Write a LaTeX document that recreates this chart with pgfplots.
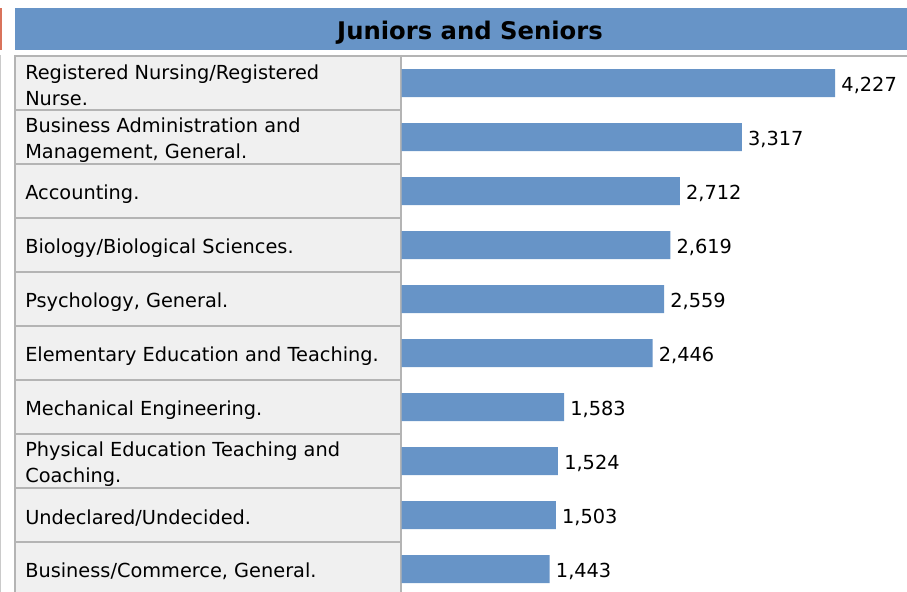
\documentclass[border=0pt]{standalone}
\usepackage{pgfplots}
\pgfplotsset{compat=1.18}
\usepackage{fontspec}
\setmainfont{DejaVu Sans}
\definecolor{barblue}{HTML}{6794C7}
\definecolor{cellgray}{HTML}{F0F0F0}
\definecolor{rulegray}{HTML}{B4B4B4}
\definecolor{edgeorange}{HTML}{D9735B}
\newcommand{\lblfont}{\fontsize{14.5pt}{19.5pt}\selectfont}

\begin{document}
\begin{tikzpicture}
% table frame and title, in pixel units (y down)
\begin{scope}[x=0.75pt,y=-0.75pt]
\fill[edgeorange] (0,8) rectangle (2,50);
\draw[rulegray!70, line width=0.75pt] (0.5,55) -- (0.5,592);
\fill[barblue] (15,8) rectangle (907,50.5);
\node[font=\fontsize{18.2pt}{22pt}\selectfont\bfseries] at (470,32.5) {Juniors and Seniors};
\fill[cellgray] (14,55) rectangle (401,592);
\foreach \yy in {110,164,...,542} \draw[rulegray, line width=1.1pt] (14,\yy) -- (401,\yy);
\draw[rulegray, line width=1.5pt] (15,55) -- (15,592);
\draw[rulegray, line width=1.5pt] (400.5,55) -- (400.5,592);
\draw[rulegray, line width=1.5pt] (14,55.75) -- (907,55.75);
\end{scope}

\begin{axis}[
    at={(301.275pt,0pt)}, anchor=north west,
    scale only axis, width=378.975pt, height=444pt,
    xmin=0, xmax=4927, ymin=-0.537, ymax=10.426, y dir=reverse,
    xbar, bar width=21pt,
    axis line style={draw=none},
    xtick=\empty, ytick={1,...,10}, major tick length=0pt,
    yticklabels={
        {Registered Nursing/Registered\\Nurse.},
        {Business Administration and\\Management, General.},
        {Accounting.},
        {Biology/Biological Sciences.},
        {Psychology, General.},
        {Elementary Education and Teaching.},
        {Mechanical Engineering.},
        {Physical Education Teaching and\\Coaching.},
        {Undeclared/Undecided.},
        {Business/Commerce, General.}},
    yticklabel style={anchor=west, align=left, inner sep=0pt, xshift=-282.525pt, yshift=-2pt, font=\lblfont},
    nodes near coords,
    nodes near coords style={font=\lblfont, anchor=west, inner sep=0pt, xshift=4.5pt, yshift=-2pt},
    /pgf/number format/assume math mode=true,
    /pgf/number format/1000 sep={,},
    clip=false,
]
\addplot[fill=barblue, draw=none] coordinates {
    (4227,1) (3317,2) (2712,3) (2619,4) (2559,5)
    (2446,6) (1583,7) (1524,8) (1503,9) (1443,10)
};
\end{axis}
\pgfresetboundingbox
\path[use as bounding box] (0,0) rectangle (680.25pt,-444pt);
\end{tikzpicture}
\end{document}
